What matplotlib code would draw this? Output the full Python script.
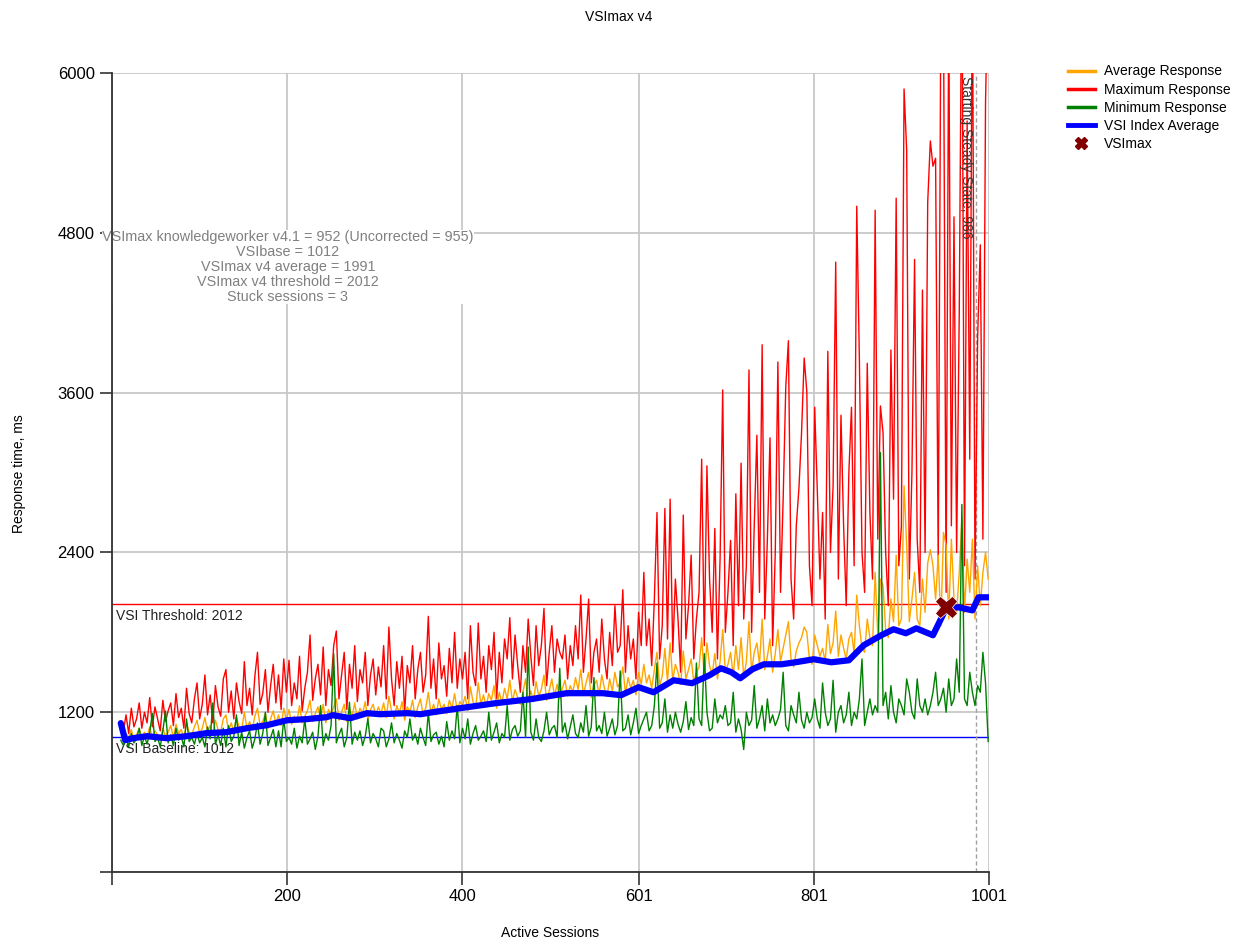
import numpy as np
import matplotlib
matplotlib.use("Agg")
import matplotlib.pyplot as plt
from matplotlib.lines import Line2D

plt.rcParams['font.family'] = ['Liberation Sans', 'DejaVu Sans']

# sessions sampled every 3 from 10 to 1000
sessions = list(range(10, 1001, 3))

max_resp = [
    1100, 1060, 1180, 1040, 1230, 1090, 1150, 1270, 1080, 1200,
    1120, 1310, 1090, 1240, 1150, 1060, 1290, 1130, 1210, 1270,
    1100, 1340, 1160, 1230, 1080, 1380, 1190, 1120, 1300, 1420,
    1150, 1260, 1480, 1180, 1330, 1120, 1400, 1240, 1170, 1450,
    1520, 1200, 1360, 1150, 1420, 1280, 1190, 1580, 1250, 1380,
    1180, 1470, 1650, 1260, 1340, 1520, 1200, 1400, 1560, 1270,
    1480, 1220, 1600, 1350, 1590, 1250, 1420, 1300, 1620, 1210,
    1380, 1500, 1780, 1290, 1450, 1560, 1330, 1690, 1250, 1520,
    1400, 1700, 1810, 1300, 1480, 1650, 1220, 1560, 1380, 1700,
    1280, 1520, 1420, 1650, 1250, 1480, 1600, 1330, 1540, 1390,
    1700, 1300, 1840, 1450, 1250, 1580, 1380, 1620, 1200, 1550,
    1420, 1700, 1300, 1520, 1650, 1350, 1480, 1920, 1380, 1600,
    1300, 1720, 1450, 1550, 1320, 1680, 1420, 1800, 1380, 1600,
    1450, 1650, 1300, 1850, 1500, 1400, 1870, 1450, 1620, 1350,
    1700, 1520, 1800, 1300, 1650, 1420, 1750, 1600, 1910, 1450,
    1780, 1550, 1350, 1700, 1500, 1900, 1620, 1400, 1850, 1550,
    1700, 1980, 1400, 1650, 1850, 1500, 1750, 1650, 1600, 1780,
    1450, 1700, 1550, 1850, 1600, 2080, 1500, 1750, 2050, 1420,
    1650, 1750, 1500, 1900, 1600, 1450, 1800, 1550, 2000, 1650,
    1700, 2120, 1500, 1850, 1600, 1750, 1450, 1950, 1700, 2250,
    1700, 1900, 1550, 2050, 2700, 1600, 1850, 2730, 1750, 2800,
    1650, 2200, 1900, 1500, 2680, 1750, 2000, 2380, 1600, 1900,
    2100, 3100, 1700, 3050, 2200, 1800, 2580, 1600, 2350, 3620,
    1800, 2100, 2490, 1700, 2840, 2000, 3070, 1900, 2300, 3770,
    1800, 2600, 3280, 2100, 3960, 1900, 2500, 3260, 1700, 2400,
    3830, 2100, 2800, 3645, 3990, 2200, 1900, 2600, 2880, 3300,
    3860, 3610, 2300, 2000, 3490, 2860, 2200, 2700, 1900, 3910,
    2400, 2900, 4580, 2200, 3430, 2600, 2000, 3000, 3490, 2300,
    5000, 3850, 2400, 2100, 3820, 2700, 2200, 4970, 2500, 3500,
    3300, 2400, 2000, 3920, 2800, 5060, 2300, 2600, 5880, 5420,
    2200, 3000, 4600, 2500, 2100, 4370, 2400, 5030, 5490, 5300,
    5360, 2300, 6500, 6500, 2100, 6500, 2600, 4920, 2400, 4200,
    7000, 2300, 5640, 3100, 6800, 2200, 4020, 4710, 2500, 5780,
    6800,
]

avg_resp = [
    1060, 1000, 1040, 1010, 1070, 990, 1030, 1080, 1010, 1050,
    1020, 1090, 1000, 1060, 1030, 990, 1080, 1020, 1050, 1100,
    1010, 1110, 1040, 1070, 1000, 1120, 1050, 1030, 1090, 1140,
    1040, 1080, 1160, 1050, 1100, 1030, 1140, 1070, 1050, 1150,
    1180, 1060, 1120, 1050, 1160, 1090, 1070, 1200, 1080, 1130,
    1070, 1170, 1230, 1100, 1130, 1190, 1080, 1150, 1210, 1110,
    1180, 1100, 1230, 1140, 1220, 1110, 1170, 1130, 1250, 1120,
    1170, 1210, 1290, 1130, 1190, 1240, 1150, 1260, 1120, 1220,
    1180, 1240, 1300, 1140, 1200, 1260, 1130, 1230, 1170, 1270,
    1150, 1230, 1190, 1280, 1140, 1220, 1260, 1170, 1240, 1190,
    1270, 1160, 1320, 1210, 1150, 1250, 1190, 1280, 1140, 1240,
    1200, 1290, 1160, 1240, 1300, 1180, 1230, 1350, 1190, 1260,
    1180, 1300, 1220, 1260, 1190, 1290, 1230, 1340, 1210, 1280,
    1250, 1320, 1210, 1390, 1280, 1230, 1420, 1260, 1330, 1240,
    1340, 1290, 1400, 1230, 1350, 1270, 1380, 1300, 1440, 1280,
    1370, 1310, 1260, 1350, 1450, 1290, 1360, 1280, 1430, 1320,
    1370, 1480, 1290, 1360, 1450, 1320, 1410, 1300, 1380, 1440,
    1320, 1400, 1350, 1460, 1370, 1520, 1330, 1420, 1500, 1310,
    1400, 1440, 1330, 1480, 1380, 1320, 1450, 1360, 1500, 1390,
    1420, 1540, 1340, 1460, 1380, 1440, 1330, 1500, 1410, 1560,
    1420, 1480, 1380, 1520, 1650, 1400, 1470, 1680, 1430, 1720,
    1440, 1560, 1500, 1410, 1660, 1450, 1520, 1600, 1430, 1500,
    1540, 1760, 1460, 1720, 1550, 1480, 1640, 1450, 1580, 1820,
    1500, 1560, 1650, 1470, 1700, 1520, 1760, 1460, 1580, 1880,
    1500, 1650, 1720, 1560, 1900, 1520, 1620, 1750, 1500, 1640,
    1820, 1580, 1680, 1780, 1880, 1600, 1540, 1660, 1720, 1760,
    1840, 1800, 1600, 1560, 1780, 1700, 1620, 1680, 1580, 1860,
    1640, 1720, 1960, 1620, 1780, 1680, 1600, 1750, 1800, 1640,
    2080, 1850, 1680, 1650, 1900, 1760, 1700, 2250, 1780, 2200,
    2150, 1820, 1760, 2050, 1880, 2380, 1850, 1900, 2900, 2450,
    1880, 2050, 2250, 1900, 1850, 2200, 1950, 2320, 2420, 2300,
    2050, 2380, 1850, 2550, 2450, 1900, 2500, 2050, 1950, 2250,
    2650, 1950, 2350, 2100, 2500, 1900, 2300, 2000, 2250, 2400,
    2200,
]

min_resp = [
    990, 950, 1010, 940, 1040, 970, 1000, 1080, 950, 1020,
    960, 1050, 1190, 980, 1010, 940, 1060, 1210, 970, 1030,
    950, 1080, 990, 1020, 940, 1150, 980, 1010, 960, 1040,
    970, 1010, 940, 1090, 1000, 1270, 960, 1030, 950, 1080,
    940, 1100, 980, 1020, 1180, 950, 1050, 930, 1010, 1060,
    930, 1000, 1120, 960, 1040, 1200, 950, 1010, 1070, 940,
    1060, 940, 1150, 980, 1010, 960, 1080, 930, 1020, 970,
    1150, 960, 1000, 1050, 920, 1020, 1250, 950, 1040, 990,
    1100, 1640, 970, 1030, 1080, 940, 1010, 1275, 960, 1050,
    990, 1060, 950, 1020, 1150, 970, 1040, 1000, 940, 1080,
    1060, 940, 1000, 1120, 970, 1040, 990, 930, 1060, 1010,
    1150, 990, 1040, 960, 1080, 1010, 950, 1200, 980, 1030,
    1050, 960, 1020, 940, 1130, 990, 1060, 1000, 1250, 970,
    1080, 1000, 1150, 960, 1040, 1100, 990, 1020, 1060, 980,
    1200, 990, 1050, 1120, 970, 1040, 1010, 1250, 990, 1070,
    1100, 1020, 1060, 1350, 1010, 1690, 1050, 990, 1150, 1010,
    980, 1060, 1200, 1030, 1080, 1100, 1010, 1530, 1050, 1120,
    1000, 1090, 1180, 1040, 1010, 1120, 1050, 1250, 1020, 1090,
    1460, 1060, 1100, 1040, 1200, 1020, 1080, 1150, 1030, 1100,
    1510, 1060, 1080, 1180, 1030, 1120, 1230, 1040, 1100, 1150,
    1200, 1060, 1100, 1250, 1570, 1080, 1120, 1300, 1050, 1180,
    1080, 1200, 1110, 1050, 1130, 1280, 1070, 1160, 1100, 1570,
    1150, 1100, 1640, 1200, 1060, 1080, 1300, 1120, 1180, 1150,
    1250, 1100, 1120, 1350, 1050, 1150, 1070, 920, 1200, 1100,
    1140, 1400, 1080, 1150, 1250, 1060, 1300, 1120, 1180, 1100,
    1150, 1220, 1500, 1100, 1060, 1250, 1180, 1120, 1350, 1140,
    1080, 1200, 1120, 1160, 1300, 1150, 1080, 1420, 1200, 1100,
    1150, 1440, 1050, 1200, 1250, 1120, 1180, 1350, 1100, 1200,
    1150, 1300, 1600, 1100, 1200, 1300, 1180, 1250, 1200, 3150,
    1250, 1350, 1150, 1400, 1200, 1120, 1300, 1250, 1180, 1450,
    1350, 1200, 1150, 1450, 1250, 1200, 1300, 1180, 1250, 1350,
    1500, 1250, 1300, 1380, 1200, 1450, 1250, 1300, 1600, 1350,
    2760, 1300, 1250, 1500, 1350, 1250, 1400, 1350, 1650, 1420,
    980,
]

# VSI index average (smooth line)
idx_sessions = [10, 15, 24, 40, 62, 85, 108, 130, 154, 177, 200, 222, 245, 252, 272, 291, 306, 337, 352, 366,
                397, 438, 478, 519, 560, 581, 601, 618, 641, 662, 682, 695, 707, 717, 731, 744, 764, 780, 801,
                821, 841, 858, 878, 892, 906, 918, 937, 952, 966, 982, 989, 1001]
idx_values = [1118, 990, 1005, 1020, 1005, 1020, 1043, 1050, 1080, 1103, 1140, 1148, 1163, 1178, 1155, 1193, 1185,
              1193, 1185, 1200, 1230, 1268, 1298, 1343, 1343, 1328, 1388, 1350, 1440, 1418, 1478, 1530, 1500,
              1455, 1523, 1560, 1560, 1575, 1598, 1575, 1590, 1703, 1778, 1823, 1793, 1830, 1778, 1980, 1988,
              1965, 2063, 2063]

vsi_base = 1012
vsi_threshold = 2012
vsimax_session, vsimax_value = 952, 1991
steady_state = 986

x_ticks = [0, 200, 400, 601, 801, 1001]
x_ticklabels = ['', '200', '400', '601', '801', '1001']
y_ticks = [0, 1200, 2400, 3600, 4800, 6000]
y_ticklabels = ['', '1200', '2400', '3600', '4800', '6000']

summary = ("VSImax knowledgeworker v4.1 = 952 (Uncorrected = 955)\n"
           "VSIbase = 1012\nVSImax v4 average = 1991\n"
           "VSImax v4 threshold = 2012\nStuck sessions = 3")

fig = plt.figure(figsize=(12.38, 9.41), dpi=100)
ax = fig.add_axes([0.0905, 0.0733, 0.7084, 0.8491])

ax.axhline(vsi_threshold, color='red', lw=1.0, zorder=1.9)
ax.axhline(vsi_base, color='blue', lw=1.0, zorder=1.9)
ax.axvline(steady_state, color='#a0a0a0', lw=1.0, ls=(0, (3, 2)), zorder=1.9)

ax.plot(sessions, max_resp, color='red', lw=1.0, zorder=2.1)
ax.plot(sessions, avg_resp, color='orange', lw=1.0, zorder=2.2)
ax.plot(sessions, min_resp, color='green', lw=1.0, zorder=2.3)
ax.plot(idx_sessions, idx_values, color='blue', lw=4.5, zorder=2.4,
        solid_capstyle='round', solid_joinstyle='round')
ax.plot([vsimax_session], [vsimax_value], ls='none', marker='X', ms=16,
        color='#800000', mec='white', mew=0.5, zorder=2.6)

ax.text(4, 1975, 'VSI Threshold: 2012', fontsize=10, color='#222222', va='top', ha='left', zorder=1.8)
ax.text(4, 975, 'VSI Baseline: 1012', fontsize=10, color='#222222', va='top', ha='left', zorder=1.8)
ax.text(975, 5975, 'Starting Steady State, 986', rotation=270, fontsize=10, color='#333333',
        va='top', ha='center', zorder=3)

ax.text(0.2326, 0.7163, summary, transform=fig.transFigure, fontsize=10.4, color='#808080',
        ha='center', va='center', multialignment='center', linespacing=1.1,
        bbox=dict(facecolor='white', edgecolor='none', pad=0), zorder=2.0, clip_on=False)

ax.set_xlim(0, 1001)
ax.set_ylim(0, 6000)
ax.set_xticks(x_ticks)
ax.set_xticklabels(x_ticklabels)
ax.set_yticks(y_ticks)
ax.set_yticklabels(y_ticklabels)
ax.tick_params(axis='both', labelsize=12, length=9, width=1.2, color='#333333')
ax.grid(True, color='#c8c8c8', lw=1.3)
ax.set_axisbelow('line')
for side in ['top', 'right']:
    ax.spines[side].set_visible(False)
for side in ['left', 'bottom']:
    ax.spines[side].set_color('#333333')
    ax.spines[side].set_linewidth(1.3)

fig.text(0.5, 0.982, 'VSImax v4', ha='center', va='center', fontsize=10)
fig.text(0.444, 0.0085, 'Active Sessions', ha='center', va='center', fontsize=10)
fig.text(0.015, 0.497, 'Response time, ms', ha='center', va='center', rotation=90, fontsize=10)

handles = [
    Line2D([], [], color='orange', lw=2.5),
    Line2D([], [], color='red', lw=2.5),
    Line2D([], [], color='green', lw=2.5),
    Line2D([], [], color='blue', lw=3.5),
    Line2D([], [], ls='none', marker='X', ms=9, color='#800000'),
]
labels = ['Average Response', 'Maximum Response', 'Minimum Response', 'VSI Index Average', 'VSImax']
fig.legend(handles, labels, loc='upper left',
           bbox_to_anchor=(1055 / 1238, 1 - 52 / 941), frameon=False, fontsize=10,
           handlelength=2.0, handletextpad=0.6, labelspacing=0.3)

fig.savefig('out.png', dpi=100)
